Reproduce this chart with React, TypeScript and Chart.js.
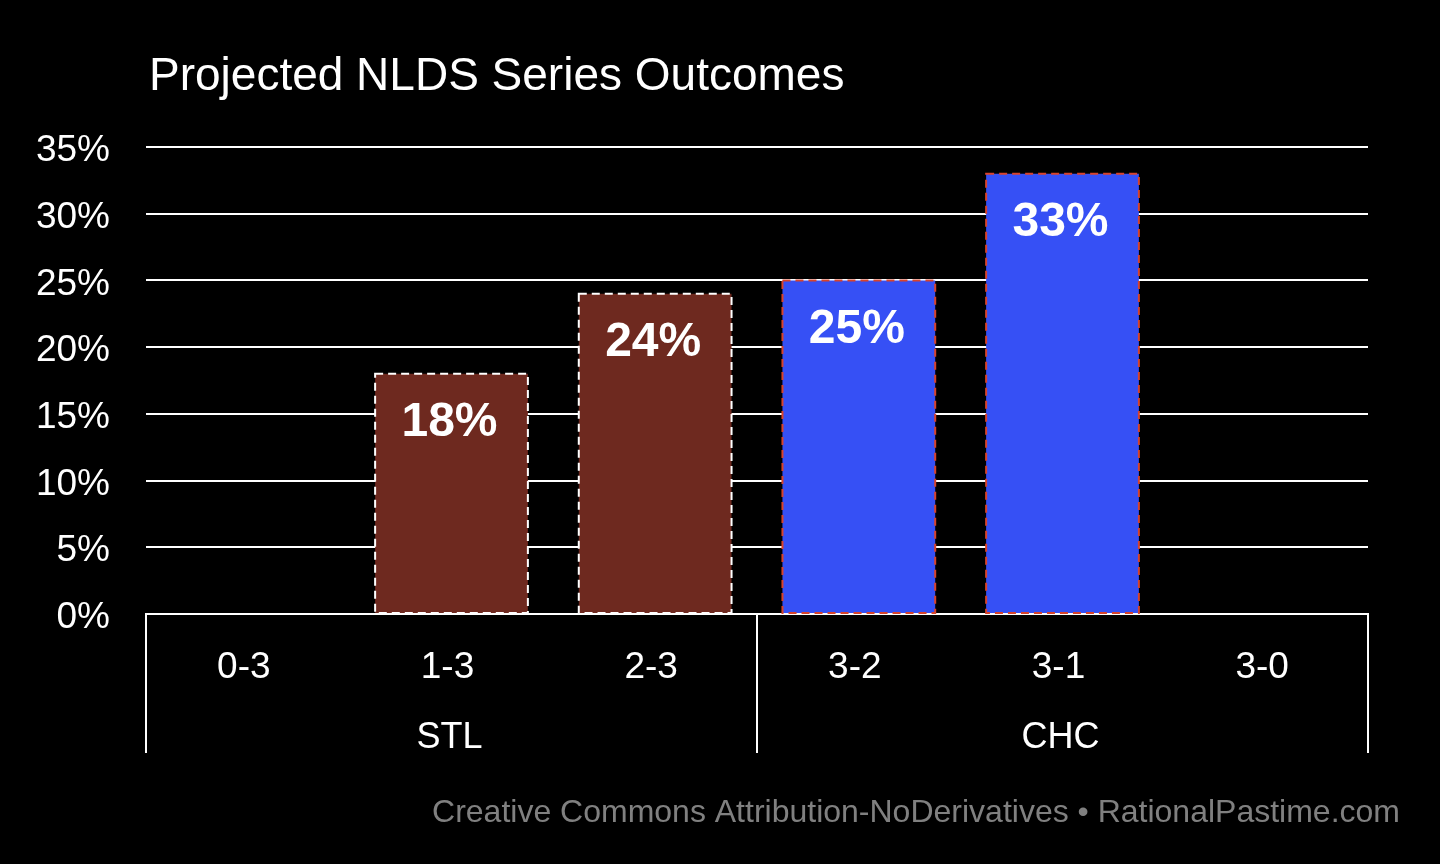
import React, { useEffect, useRef } from 'react';
import { Chart, registerables, Plugin } from 'chart.js';

Chart.register(...registerables);

// Series outcomes (STL wins - CHC wins) and projected probability in percent
const outcomes = ['0-3', '1-3', '2-3', '3-2', '3-1', '3-0'];
const probabilities = [0, 18, 24, 25, 33, 0];
const teams = ['STL', 'STL', 'STL', 'CHC', 'CHC', 'CHC'];
const groupNames = ['STL', 'CHC'];
const yTicks = [0, 5, 10, 15, 20, 25, 30, 35];

const teamFill: Record<string, string> = { STL: '#6E291F', CHC: '#3650F5' };
const teamEdge: Record<string, string> = { STL: '#FFFFFF', CHC: '#D8432B' };

const FONT = '"Liberation Sans", Helvetica, Arial, sans-serif';

const decorPlugin: Plugin<'bar'> = {
    id: 'decor',
    afterDatasetsDraw(chart) {
        const { ctx } = chart;
        const meta = chart.getDatasetMeta(0);
        ctx.save();
        // dashed bar outlines + value labels
        meta.data.forEach((el: any, i) => {
            const v = probabilities[i];
            if (!v) return;
            const left = el.x - el.width / 2;
            const top = el.y;
            ctx.setLineDash([8, 5]);
            ctx.lineWidth = 2;
            ctx.strokeStyle = teamEdge[teams[i]];
            ctx.strokeRect(left, top, el.width, el.base - top);
            ctx.setLineDash([]);
            ctx.fillStyle = '#FFFFFF';
            ctx.font = `bold 48px ${FONT}`;
            ctx.textAlign = 'center';
            ctx.textBaseline = 'middle';
            ctx.fillText(`${v}%`, el.x - 2, top + 49);
        });
        ctx.restore();
    },
    afterDraw(chart) {
        const { ctx, chartArea } = chart;
        const xs = chart.scales.x;
        const half = (xs.getPixelForTick(1) - xs.getPixelForTick(0)) / 2;
        ctx.save();
        // group separators and group labels
        ctx.strokeStyle = '#FFFFFF';
        ctx.lineWidth = 2;
        const bottom = 753;
        const edges: number[] = [];
        groupNames.forEach((g) => {
            const idx = teams.map((t, i) => (t === g ? i : -1)).filter((i) => i >= 0);
            const l = xs.getPixelForTick(idx[0]) - half;
            const r = xs.getPixelForTick(idx[idx.length - 1]) + half;
            edges.push(l, r);
            ctx.fillStyle = '#FFFFFF';
            ctx.font = `36px ${FONT}`;
            ctx.textAlign = 'center';
            ctx.textBaseline = 'middle';
            ctx.fillText(g, (l + r) / 2 - 2, 738);
        });
        Array.from(new Set(edges.map((e) => Math.round(e)))).forEach((x) => {
            ctx.beginPath();
            ctx.moveTo(x, chartArea.bottom);
            ctx.lineTo(x, bottom);
            ctx.stroke();
        });
        // title
        ctx.fillStyle = '#FFFFFF';
        ctx.font = `46px ${FONT}`;
        ctx.textAlign = 'left';
        ctx.textBaseline = 'alphabetic';
        ctx.fillText('Projected NLDS Series Outcomes', 149, 90);
        // footer
        ctx.fillStyle = '#808080';
        ctx.font = `32px ${FONT}`;
        ctx.textAlign = 'right';
        ctx.fillText('Creative Commons Attribution-NoDerivatives \u2022 RationalPastime.com', 1400, 822);
        ctx.restore();
    },
};

const App: React.FC = () => {
    const ref = useRef<HTMLCanvasElement>(null);

    useEffect(() => {
        if (!ref.current) return;
        const chart = new Chart(ref.current, {
            type: 'bar',
            data: {
                labels: outcomes,
                datasets: [
                    {
                        label: 'Probability',
                        data: probabilities,
                        backgroundColor: teams.map((t) => teamFill[t]),
                        borderWidth: 0,
                        barPercentage: 0.75,
                        categoryPercentage: 1,
                    },
                ],
            },
            options: {
                responsive: false,
                animation: false,
                devicePixelRatio: 1,
                layout: { padding: { top: 147, right: 72, left: 0, bottom: 0 } },
                plugins: { legend: { display: false }, tooltip: { enabled: false } },
                scales: {
                    x: {
                        afterFit: (s: any) => { s.height = 250; },
                        grid: { display: false, drawTicks: false },
                        border: { display: true, color: '#FFFFFF', width: 2 },
                        ticks: {
                            color: '#FFFFFF',
                            font: { family: FONT, size: 37 },
                            padding: 32,
                            labelOffset: -4,
                        },
                    },
                    y: {
                        min: 0,
                        max: yTicks[yTicks.length - 1],
                        afterFit: (s: any) => { s.width = 146; },
                        afterBuildTicks: (s: any) => { s.ticks = yTicks.map((v) => ({ value: v })); },
                        grid: { color: '#FFFFFF', lineWidth: 2, drawTicks: false },
                        border: { display: false },
                        ticks: {
                            color: '#FFFFFF',
                            font: { family: FONT, size: 37 },
                            padding: 36,
                            labelOffset: 4,
                            callback: (v) => `${v}%`,
                        },
                    },
                },
            },
            plugins: [decorPlugin],
        });
        return () => chart.destroy();
    }, []);

    return (
        <div style={{ position: 'absolute', left: 0, top: 0, width: 1440, height: 864, background: '#000' }}>
            <canvas ref={ref} width={1440} height={864}></canvas>
        </div>
    );
};

export default App;
